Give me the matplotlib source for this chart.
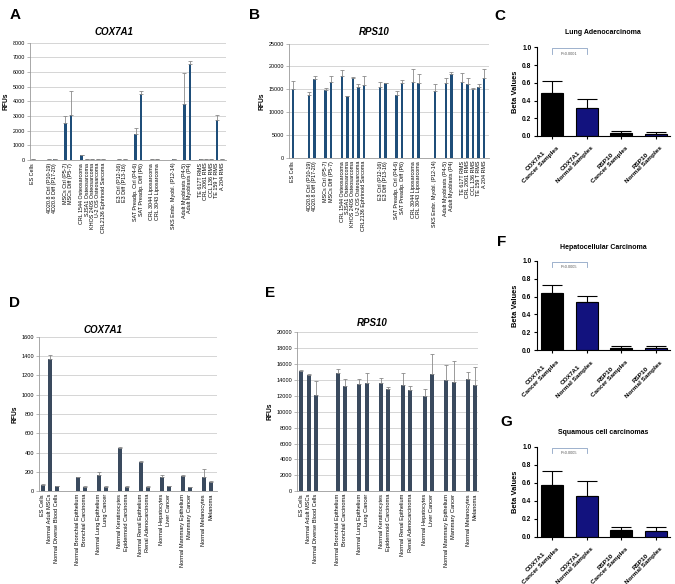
import numpy as np
import matplotlib
matplotlib.use("Agg")
import matplotlib.pyplot as plt

plt.rcParams['font.family'] = ['Liberation Sans', 'DejaVu Sans']

W, H = 675, 584

# ---------------------------------------------------------
# DATA
# ---------------------------------------------------------

# panels A / B : cell lines (empty strings = spacer slots)
cell_lines = ["ES Cells", "", "", "4D20.8 Ctrl (P10-19)", "4D20.8 Diff (P17-20)", "",
              "MSCs Ctrl (P5-7)", "MSCs Diff (P5-7)", "",
              "CRL 1544 Osteosarcoma", "SJSA1 Osteosarcoma", "KHOS 240S Osteosarcoma",
              "U-2 OS Osteosarcoma", "CRL2136 Ephrinoid Sarcoma", "", "",
              "E3 Ctrl (P12-16)", "E3 Diff (P13-16)", "",
              "SAT Preadip. Ctrl (P4-6)", "SAT Preadip. Diff (P6)", "",
              "CRL 3044 Liposarcoma", "CRL 3043 Liposarcoma", "", "",
              "SKS Embr. Myobl. (P12-14)", "",
              "Adult Myoblasts (P4-5)", "Adult Myoblasts (P4)", "",
              "TE 617T RMS", "CRL 2061 RMS", "CCL 136 RMS", "TE 159 T RMS", "A 204 RMS"]

cox_cells = [50, None, None, 50, 50, None, 2500, 3100, None, 360, 50, 80, 50, 40, None, None,
             40, 40, None, 1770, 4500, None, 50, 50, None, None, 50, None, 3800, 6520, None,
             50, 80, 40, 2730, 40]
cox_cells_err = [0, None, None, 0, 0, None, 500, 1600, None, 0, 0, 0, 0, 0, None, None,
                 0, 0, None, 430, 200, None, 0, 0, None, None, 0, None, 2100, 250, None,
                 0, 0, 0, 340, 0]

rps_cells = [15100, None, None, 13800, 17200, None, 14750, 16700, None, 17950, 13450, 17500,
             15550, 15900, None, None, 15450, 16400, None, 13800, 16450, None, 16500, 16300,
             None, None, 14600, None, 16300, 18400, None, 16600, 16100, 15000, 15400, 17400]
rps_cells_err = [1800, None, None, 600, 750, None, 550, 1200, None, 1250, 0, 100, 550, 1900,
                 None, None, 1150, 0, None, 800, 650, None, 2850, 2100, None, None, 1600, None,
                 1200, 400, None, 2000, 1300, 300, 700, 2000]

# panels D / E : normal tissues vs cancers
tissues = ["ES Cells", "Normal Adult MSCs", "Normal Diverse Blood Cells", "", "",
           "Normal Bronchial Epithelium", "Bronchial Carcinoma", "",
           "Normal Lung Epithelium", "Lung Cancer", "",
           "Normal Keratinocytes", "Epidermoid Carcinoma", "",
           "Normal Renal Epithelium", "Renal Adenocarcinoma", "",
           "Normal Hepatocytes", "Liver Cancer", "",
           "Normal Mammary Epithelium", "Mammary Cancer", "",
           "Normal Melanocytes", "Melanoma"]

cox_tissue = [62, 1366, 55, None, None, 145, 48, None, 172, 48, None, 452, 48, None,
              300, 48, None, 148, 55, None, 159, 45, None, 145, 100]
cox_tissue_err = [10, 48, 5, None, None, 5, 3, None, 30, 5, None, 5, 3, None,
                  10, 3, None, 24, 3, None, 5, 3, None, 86, 5]

rps_tissue = [15150, 14550, 12100, None, None, 14800, 13200, None, 13500, 13600, None,
              13650, 12800, None, 13400, 12700, None, 11950, 14700, None, 14000, 13750,
              None, 14100, 13300]
rps_tissue_err = [50, 150, 1700, None, None, 600, 850, None, 600, 1250, None, 550, 300,
                  None, 1450, 550, None, 900, 2550, None, 1900, 2650, None, 900, 2250]

# panels C / F / G : methylation beta values
beta_labels = ["COX7A1\nCancer Samples", "COX7A1\nNormal Samples",
               "RSP10\nCancer Samples", "RSP10\nNormal Samples"]
lung_beta = [0.485, 0.32, 0.03, 0.026]
lung_err = [0.14, 0.093, 0.023, 0.019]
liver_beta = [0.634, 0.537, 0.03, 0.03]
liver_err = [0.094, 0.067, 0.02, 0.015]
squam_beta = [0.578, 0.456, 0.074, 0.067]
squam_err = [0.155, 0.159, 0.037, 0.044]

# ---------------------------------------------------------
# HELPERS
# ---------------------------------------------------------

fig = plt.figure(figsize=(W / 100, H / 100), dpi=100)


def px_axes(left, top, right, bottom):
    return fig.add_axes([left / W, 1 - bottom / H, (right - left) / W, (bottom - top) / H])


def ftext(x, y, s, **kw):
    fig.text(x / W, 1 - y / H, s, ha='center', va='center', **kw)


def excel_panel(box, labels, vals, errs, ymax, ystep, xlim, color, width, ecolor, fs):
    ax = px_axes(*box)
    x = np.arange(len(labels))
    v = np.array(vals, dtype=float)
    e = np.array(errs, dtype=float)
    ok = ~np.isnan(v)
    ax.bar(x[ok], v[ok], width=width, color=color, zorder=3)
    ax.errorbar(x[ok], v[ok], yerr=[np.zeros(ok.sum()), e[ok]], fmt='none', ecolor=ecolor,
                elinewidth=0.6, capsize=1.2, capthick=0.6, zorder=4)
    ax.set_xlim(*xlim)
    ax.set_ylim(0, ymax)
    ax.set_yticks(np.arange(0, ymax + 1, ystep))
    ax.yaxis.grid(True, color='#cfcfcf', lw=0.6)
    ax.set_axisbelow(True)
    for s in ['top', 'right']:
        ax.spines[s].set_visible(False)
    for s in ['left', 'bottom']:
        ax.spines[s].set_color('#9a9a9a')
        ax.spines[s].set_linewidth(0.6)
    ax.set_xticks(x)
    ax.set_xticklabels(labels, rotation=90, fontsize=fs)
    ax.tick_params(axis='x', length=0, pad=2)
    ax.tick_params(axis='y', length=2, width=0.5, color='#9a9a9a', labelsize=fs, pad=1.5)
    ax.set_ylabel('RFUs', fontsize=4.8, fontweight='bold', labelpad=2)
    return ax


def prism_panel(top, bottom, vals, errs, pval):
    ax = px_axes(537, top, 670, bottom)
    x = np.arange(len(beta_labels))
    ax.bar(x, vals, width=0.64, color=['black', '#12127e', 'black', '#12127e'],
           edgecolor='black', linewidth=0.8, zorder=2)
    ax.errorbar(x, vals, yerr=[np.zeros(len(vals)), errs], fmt='none', ecolor='black',
                elinewidth=0.8, capsize=7.5, capthick=0.8, zorder=3)
    ax.set_xlim(-0.43, 3.4)
    ax.set_ylim(0, 1.0)
    yt = np.arange(0, 1.01, 0.2)
    ax.set_yticks(yt)
    ax.set_yticklabels([f"{t:.1f}" for t in yt], fontsize=4.8, fontweight='bold')
    for s in ['top', 'right']:
        ax.spines[s].set_visible(False)
    for s in ['left', 'bottom']:
        ax.spines[s].set_linewidth(0.8)
    ax.set_xticks(x)
    ax.set_xticklabels(beta_labels, rotation=45, ha='right', va='top', rotation_mode='anchor',
                       multialignment='center', fontsize=4.6, fontweight='bold')
    ax.tick_params(direction='out', length=2.5, width=0.8, pad=1.5)
    ax.set_ylabel('Beta Values', fontsize=5.4, fontweight='bold', labelpad=2)
    # significance bracket
    ax.plot([0, 0, 1, 1], [0.93, 0.99, 0.99, 0.93], color='#8ea5c5', lw=0.6, clip_on=False)
    ax.text(0.5, 0.93, pval, ha='center', va='center', fontsize=2.8, color='#555555')
    return ax


# ---------------------------------------------------------
# PLOTS
# ---------------------------------------------------------

excel_panel((30, 42.7, 226, 160), cell_lines, cox_cells, cox_cells_err, 8000, 1000,
            (-0.55, 35.7), '#1f4e79', 0.45, '#8a8a8a', 3.9)
excel_panel((289, 43.5, 489, 158), cell_lines, rps_cells, rps_cells_err, 25000, 5000,
            (-0.7, 35.9), '#1f4e79', 0.45, '#8a8a8a', 3.9)
excel_panel((39, 336.7, 217, 491.3), tissues, cox_tissue, cox_tissue_err, 1600, 200,
            (-0.53, 24.9), '#3a4a5e', 0.55, '#8a8a8a', 4.1)
excel_panel((297, 332, 478, 491.3), tissues, rps_tissue, rps_tissue_err, 20000, 2000,
            (-0.6, 24.35), '#3a4a5e', 0.55, '#8a8a8a', 4.1)

prism_panel(47.3, 136, lung_beta, lung_err, "P<0.0001")
prism_panel(260.7, 350.3, liver_beta, liver_err, "P<0.0005")
prism_panel(446.7, 536.7, squam_beta, squam_err, "P<0.0005")

# titles
ttl = dict(fontsize=7, fontweight='bold', fontstyle='italic')
ftext(114, 32, "COX7A1", **ttl)
ftext(374, 32, "RPS10", **ttl)
ftext(103, 330, "COX7A1", **ttl)
ftext(372, 323, "RPS10", **ttl)

ftext(603, 33, "Lung Adenocarcinoma", fontsize=5, fontweight='bold')
ftext(603, 248, "Hepatocellular Carcinoma", fontsize=5, fontweight='bold')
ftext(603, 433, "Squamous cell carcinomas", fontsize=5, fontweight='bold')

# panel letters
for letter, (px, py) in {"A": (15, 15), "B": (254, 15), "C": (500, 16), "D": (15, 303),
                          "E": (270, 293), "F": (502, 242), "G": (506, 422)}.items():
    ftext(px, py, letter, fontsize=11, fontweight='bold')

fig.savefig("out.png", dpi=100)
